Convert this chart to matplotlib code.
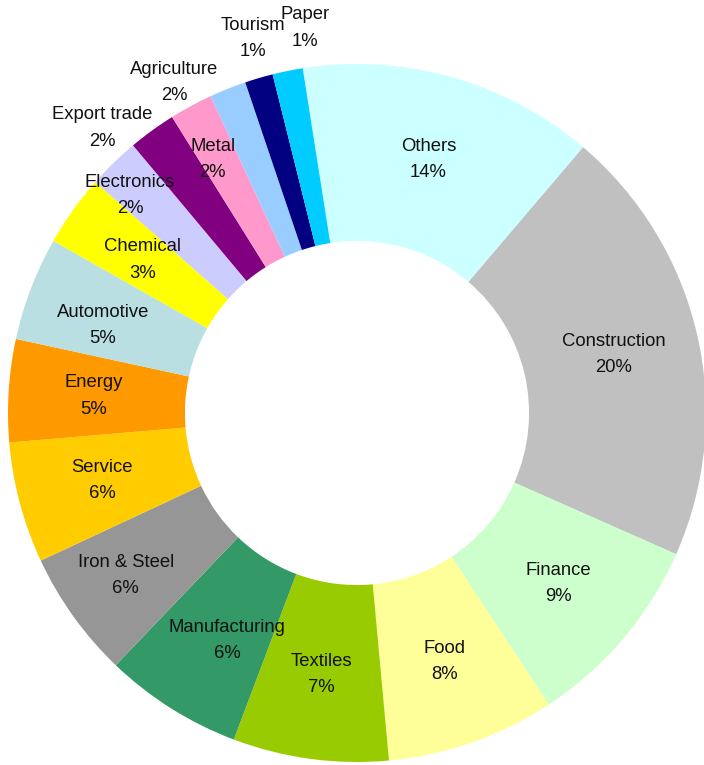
import matplotlib
matplotlib.use("Agg")
import matplotlib.pyplot as plt
import numpy as np

# Sector shares (percent), clockwise from the top
sectors = ["Others", "Construction", "Finance", "Food", "Textiles",
           "Manufacturing", "Iron & Steel", "Service", "Energy", "Automotive",
           "Chemical", "Electronics", "Export trade", "Metal", "Agriculture",
           "Tourism", "Paper"]
shares = [13.7, 20.4, 9.1, 7.8, 7.2, 6.4, 5.9, 5.6, 4.75, 4.8,
          3.3, 2.4, 2.2, 2.0, 1.7, 1.3, 1.4]
colors = ["#CCFFFF", "#C0C0C0", "#CCFFCC", "#FFFF99", "#99CC00",
          "#339966", "#969696", "#FFCC00", "#FF9900", "#B9DFE2",
          "#FFFF00", "#CCCCFF", "#800080", "#FF99CC", "#99CCFF",
          "#000080", "#00CCFF"]

# Label placement: (radius, angle nudge in degrees, clockwise) per sector
label_layout = {
    "Iron & Steel": (0.81, 0.5),
    "Manufacturing": (0.75, -2.5),
    "Automotive": (0.77, -1.8),
    "Electronics": (0.90, -2.0),
    "Metal": (0.835, -1.3),
    "Export trade": (1.095, -5.8),
    "Agriculture": (1.083, -7.2),
    "Tourism": (1.115, 0.8),
    "Paper": (1.113, 3.8),
}

fig = plt.figure(figsize=(7.04, 7.65), dpi=100)
ax = fig.add_axes([0, 0, 1, 1])

start_deg = 8.95  # first wedge begins this far left of 12 o'clock
wedges, _ = ax.pie(shares, colors=colors, startangle=90 + start_deg,
                   counterclock=False, radius=1.0,
                   wedgeprops=dict(width=0.507, linewidth=0))

total = sum(shares)
cum = 0.0
for name, val in zip(sectors, shares):
    mid = -start_deg + (cum + val / 2) / total * 360.0  # clockwise from top
    cum += val
    r, nudge = label_layout.get(name, (0.755, 0.0))
    a = np.deg2rad(mid + nudge)
    x, y = r * np.sin(a), r * np.cos(a)
    ax.text(x, y, f"{name}\n{val / total * 100:.0f}%", ha="center", va="center",
            fontsize=13.3, family="Liberation Sans", color="#111111",
            linespacing=1.7)

px = 349.0
cx, cy = 357.0, 413.0
ax.set_xlim(-cx / px, (704 - cx) / px)
ax.set_ylim(-(765 - cy) / px, cy / px)
ax.set_aspect("auto")
ax.axis("off")

fig.savefig("out.png", dpi=100)
